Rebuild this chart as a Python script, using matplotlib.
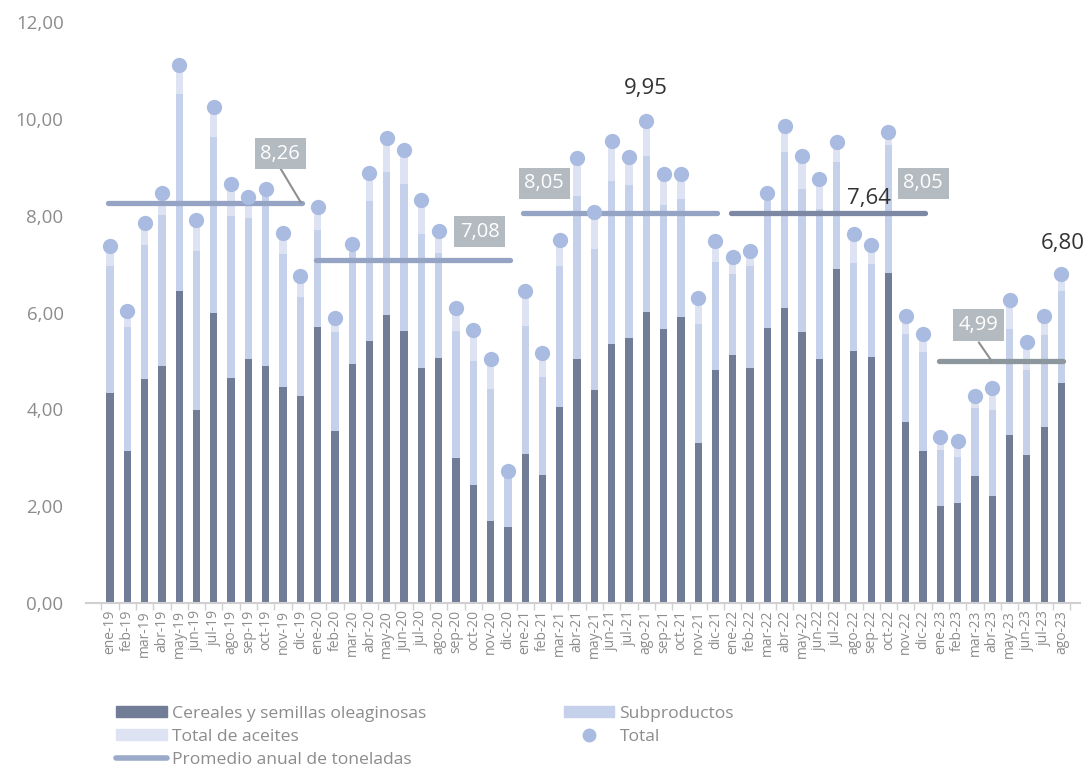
import matplotlib
matplotlib.use("Agg")

import matplotlib.pyplot as plt
from matplotlib.lines import Line2D
from matplotlib.patches import Patch
import numpy as np

plt.rcParams["font.family"] = ["Open Sans", "DejaVu Sans"]

# ---------------------------
# Data (millones de toneladas)
# ---------------------------
meses = [
    "ene-19", "feb-19", "mar-19", "abr-19", "may-19", "jun-19", "jul-19", "ago-19", "sep-19", "oct-19", "nov-19", "dic-19",
    "ene-20", "feb-20", "mar-20", "abr-20", "may-20", "jun-20", "jul-20", "ago-20", "sep-20", "oct-20", "nov-20", "dic-20",
    "ene-21", "feb-21", "mar-21", "abr-21", "may-21", "jun-21", "jul-21", "ago-21", "sep-21", "oct-21", "nov-21", "dic-21",
    "ene-22", "feb-22", "mar-22", "abr-22", "may-22", "jun-22", "jul-22", "ago-22", "sep-22", "oct-22", "nov-22", "dic-22",
    "ene-23", "feb-23", "mar-23", "abr-23", "may-23", "jun-23", "jul-23", "ago-23",
]

cereales = [
    4.33, 3.15, 4.62, 4.89, 6.45, 3.98, 5.98, 4.64, 5.05, 4.89, 4.47, 4.27,
    5.71, 3.55, 4.93, 5.42, 5.94, 5.61, 4.85, 5.07, 2.99, 2.43, 1.69, 1.57,
    3.07, 2.64, 4.04, 5.05, 4.39, 5.36, 5.48, 6.02, 5.65, 5.90, 3.30, 4.82,
    5.12, 4.85, 5.69, 6.10, 5.59, 5.03, 6.89, 5.20, 5.08, 6.82, 3.73, 3.15,
    2.00, 2.06, 2.62, 2.21, 3.46, 3.05, 3.63, 4.54,
]

subproductos = [
    2.63, 2.56, 2.78, 3.13, 4.07, 3.30, 3.65, 3.36, 2.91, 3.56, 2.74, 2.06,
    2.00, 2.04, 2.31, 2.89, 2.97, 3.05, 2.78, 2.15, 2.62, 2.56, 2.74, 1.05,
    2.65, 2.02, 2.93, 3.36, 2.93, 3.36, 3.16, 3.22, 2.58, 2.45, 2.47, 2.23,
    1.67, 2.12, 2.62, 3.22, 2.97, 3.10, 2.22, 1.83, 1.93, 2.64, 1.82, 2.03,
    1.16, 0.95, 1.40, 1.77, 2.19, 1.77, 1.90, 1.91,
]

aceites = [
    0.42, 0.33, 0.44, 0.45, 0.59, 0.64, 0.62, 0.66, 0.43, 0.11, 0.44, 0.43,
    0.46, 0.29, 0.18, 0.58, 0.70, 0.70, 0.70, 0.47, 0.49, 0.64, 0.60, 0.10,
    0.73, 0.51, 0.53, 0.79, 0.76, 0.83, 0.58, 0.71, 0.64, 0.52, 0.52, 0.43,
    0.36, 0.31, 0.16, 0.54, 0.68, 0.63, 0.42, 0.60, 0.39, 0.27, 0.37, 0.37,
    0.27, 0.33, 0.25, 0.47, 0.60, 0.58, 0.39, 0.35,
]

# Promedio anual: valor, primer y ultimo mes del año
promedio_anual = [8.26, 7.08, 8.05, 8.05, 4.99]
promedio_tramos = [(0, 11), (12, 23), (24, 35), (36, 47), (48, 55)]
promedio_colores = ["#95a3c4", "#95a3c4", "#95a3c4", "#7c88a4", "#8c979d"]
etiqueta_2022 = "7,64"

total = np.array(cereales) + np.array(subproductos) + np.array(aceites)

C_CER = "#717d96"
C_SUB = "#c5d0ea"
C_ACE = "#dde3f2"
C_TOT = "#a9bbe0"
C_TXT = "#8c8c8c"
C_BOX = "#b3bac0"


def fmt(v):
    return f"{v:.2f}".replace(".", ",")


fig = plt.figure(figsize=(10.83, 7.67), dpi=100)
ax = fig.add_axes([0.0792, 0.2138, 0.918, 0.7575])

x = np.arange(len(meses))
w = 0.42

# ---------------------------
# Stacked bars + total dots
# ---------------------------
ax.bar(x, cereales, width=w, color=C_CER, zorder=2)
ax.bar(x, subproductos, width=w, bottom=cereales, color=C_SUB, zorder=2)
ax.bar(x, aceites, width=w, bottom=np.array(cereales) + np.array(subproductos),
       color=C_ACE, zorder=2)
ax.plot(x, total, "o", color=C_TOT, markersize=11, markeredgewidth=0, zorder=4)

# ---------------------------
# Annual average lines + labels
# ---------------------------
for val, (a, b), col in zip(promedio_anual, promedio_tramos, promedio_colores):
    ax.plot([a - 0.1, b + 0.1], [val, val], color=col, lw=3.8,
            solid_capstyle="round", zorder=3)

box = dict(boxstyle="square,pad=0.28", fc=C_BOX, ec="none")
etiquetas = [
    (9.83, 9.28), (21.36, 7.67), (25.1, 8.67), (47.0, 8.67), (50.2, 5.74),
]
for val, (bx, by) in zip(promedio_anual, etiquetas):
    ax.text(bx, by, fmt(val), color="white", fontsize=14.5, ha="center",
            va="center", bbox=box, zorder=6)

# leader lines
ax.plot([9.83, 11.04], [8.99, 8.27], color="#8f8f8f", lw=1.5, zorder=5)
ax.plot([50.23, 50.98], [5.38, 4.99], color="#8f8f8f", lw=1.5, zorder=5)

ax.text(43.9, 8.35, etiqueta_2022, color="#333333", fontsize=16,
        ha="center", va="center", zorder=6)

# max / last value labels
imax = int(np.argmax(total[24:36])) + 24
ax.text(imax, 10.62, fmt(total[imax]), color="#333333", fontsize=16,
        ha="center", va="center")
ax.text(x[-1] + 0.05, 7.42, fmt(total[-1]), color="#333333", fontsize=16,
        ha="center", va="center", clip_on=False)

# ---------------------------
# Axes
# ---------------------------
ax.set_ylim(0, 12)
ax.set_xlim(-1.4, 56.07)
ax.set_yticks(np.arange(0, 12.1, 2))
ax.set_yticklabels([fmt(v) for v in np.arange(0, 12.1, 2)])
ax.tick_params(axis="y", length=0, pad=16, labelsize=13.5, labelcolor=C_TXT)

ax.set_xticks(x)
ax.set_xticklabels(meses, rotation=90)
ax.set_xticks(np.arange(-0.5, 56, 1), minor=True)
ax.tick_params(axis="x", which="major", length=0, pad=5, labelsize=10,
               labelcolor=C_TXT)
ax.tick_params(axis="x", which="minor", length=5, width=1, color="#d0d0d0")

for s in ["top", "right", "left"]:
    ax.spines[s].set_visible(False)
ax.spines["bottom"].set_color("#d0d0d0")
ax.spines["bottom"].set_linewidth(1.5)

# ---------------------------
# Legend
# ---------------------------
handles = [
    Patch(color=C_CER, label="Cereales y semillas oleaginosas"),
    Patch(color=C_ACE, label="Total de aceites"),
    Line2D([0], [0], color="#9aaac8", lw=4, solid_capstyle="round",
           label="Promedio anual de toneladas"),
    Patch(color=C_SUB, label="Subproductos"),
    Line2D([0], [0], marker="o", color=C_TOT, lw=0, markersize=9,
           label="Total"),
]
fig.legend(handles=handles, ncol=2, loc="upper left",
           bbox_to_anchor=(0.107, 0.080), frameon=False, fontsize=12.6,
           labelcolor=C_TXT, handlelength=2.9, handleheight=0.6,
           handletextpad=0.3, columnspacing=7.85, labelspacing=0.42,
           borderpad=0, borderaxespad=0)

fig.savefig("out.png", dpi=100)
